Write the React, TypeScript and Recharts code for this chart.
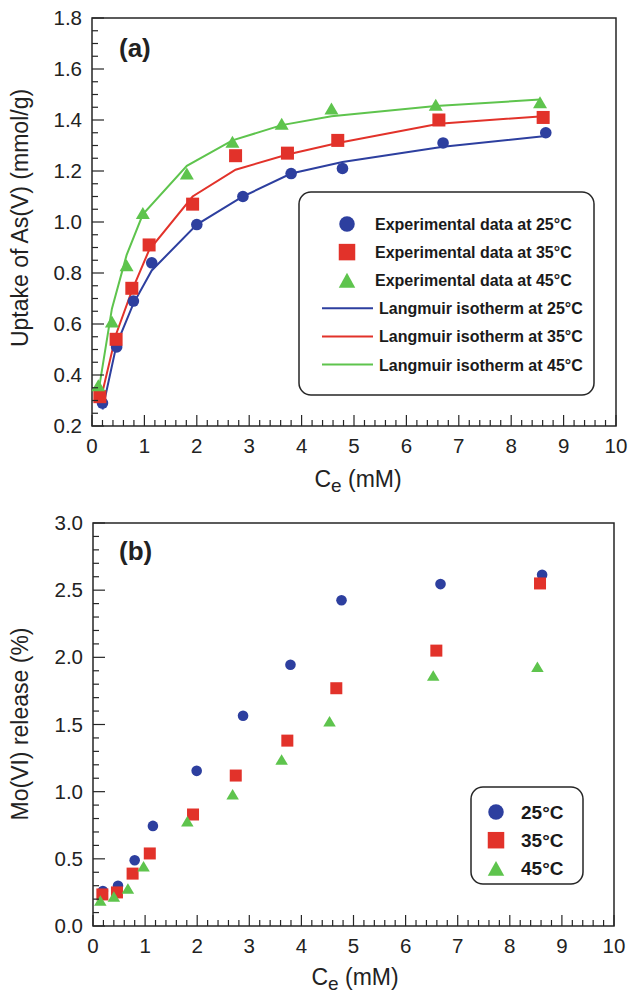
import { ScatterChart, Scatter, XAxis, YAxis, ReferenceArea } from "recharts";

const BLUE = "#2d3f9f";
const RED = "#e2322a";
const GREEN = "#5ec44d";
const INK = "#262626";
const FONT = "'Liberation Sans', Arial, Helvetica, sans-serif";

const TEMPS = ["25°C", "35°C", "45°C"];

// (a) uptake of As(V), experimental points and Langmuir fit
const ceA25 = [0.2, 0.47, 0.79, 1.14, 2.0, 2.88, 3.8, 4.78, 6.7, 8.66];
const qA25 = [0.29, 0.51, 0.69, 0.84, 0.99, 1.1, 1.19, 1.21, 1.31, 1.35];
const fitA25 = [0.265, 0.52, 0.68, 0.81, 0.99, 1.1, 1.19, 1.235, 1.295, 1.337];

const ceA35 = [0.15, 0.46, 0.76, 1.09, 1.92, 2.74, 3.73, 4.69, 6.62, 8.61];
const qA35 = [0.315, 0.54, 0.74, 0.91, 1.07, 1.26, 1.27, 1.32, 1.4, 1.41];
const fitA35 = [0.29, 0.56, 0.73, 0.89, 1.1, 1.205, 1.265, 1.31, 1.385, 1.415];

const ceA45 = [0.12, 0.38, 0.66, 0.97, 1.81, 2.68, 3.62, 4.57, 6.56, 8.55];
const qA45 = [0.36, 0.61, 0.83, 1.035, 1.19, 1.315, 1.385, 1.445, 1.46, 1.47];
const fitA45 = [0.33, 0.66, 0.87, 1.03, 1.22, 1.32, 1.38, 1.415, 1.455, 1.48];

// (b) Mo(VI) release
const ceB25 = [0.19, 0.48, 0.8, 1.15, 1.99, 2.88, 3.79, 4.77, 6.67, 8.62];
const relB25 = [0.26, 0.3, 0.49, 0.745, 1.155, 1.565, 1.945, 2.425, 2.545, 2.615];
const ceB35 = [0.18, 0.46, 0.76, 1.09, 1.92, 2.74, 3.73, 4.67, 6.59, 8.58];
const relB35 = [0.235, 0.25, 0.39, 0.54, 0.83, 1.12, 1.38, 1.77, 2.05, 2.55];
const ceB45 = [0.14, 0.4, 0.67, 0.97, 1.81, 2.68, 3.62, 4.54, 6.53, 8.53];
const relB45 = [0.19, 0.22, 0.28, 0.445, 0.78, 0.98, 1.24, 1.525, 1.865, 1.93];

const X_MAJOR = [0, 1, 2, 3, 4, 5, 6, 7, 8, 9, 10];
const Y_MAJOR_A = [0.2, 0.4, 0.6, 0.8, 1.0, 1.2, 1.4, 1.6, 1.8];
const Y_MAJOR_B = [0, 0.5, 1.0, 1.5, 2.0, 2.5, 3.0];

// minor ticks between majors (axis config only)
function withMinors(majors: number[], parts: number) {
  const out: number[] = [];
  for (let i = 0; i < majors.length - 1; i++) {
    const step = (majors[i + 1] - majors[i]) / parts;
    for (let k = 0; k < parts; k++) out.push(+(majors[i] + k * step).toFixed(4));
  }
  out.push(majors[majors.length - 1]);
  return out;
}

const zip = (xs: number[], ys: number[]) => xs.map((x, i) => ({ x, y: ys[i] }));
const isMajor = (majors: number[], v: number) => majors.some((m) => Math.abs(m - v) < 1e-6);

function makeXTick(majors: number[]) {
  return (p: any) => {
    const v = p.payload.value;
    const major = isMajor(majors, v);
    return (
      <g>
        <line x1={p.x} x2={p.x} y1={p.y} y2={p.y - (major ? 11 : 6)} stroke={INK} strokeWidth={1.2} />
        {major && (
          <text x={p.x} y={p.y + 27} textAnchor="middle" fontSize={20.5} fontFamily={FONT} fill="#222">
            {Math.round(v)}
          </text>
        )}
      </g>
    );
  };
}

function makeYTick(majors: number[]) {
  return (p: any) => {
    const v = p.payload.value;
    const major = isMajor(majors, v);
    return (
      <g>
        <line x1={p.x} x2={p.x + (major ? 12 : 6)} y1={p.y} y2={p.y} stroke={INK} strokeWidth={1.2} />
        {major && (
          <text x={p.x - 10} y={p.y + 7} textAnchor="end" fontSize={20.5} fontFamily={FONT} fill="#222">
            {v.toFixed(1)}
          </text>
        )}
      </g>
    );
  };
}

const circle = (color: string, r: number) => (p: any) => <circle cx={p.cx} cy={p.cy} r={r} fill={color} />;
const square = (color: string, s: number) => (p: any) => (
  <rect x={p.cx - s / 2} y={p.cy - s / 2} width={s} height={s} fill={color} />
);
const triangle = (color: string, w: number, h: number) => (p: any) => (
  <polygon
    points={`${p.cx},${p.cy - h / 2} ${p.cx + w / 2},${p.cy + h / 2} ${p.cx - w / 2},${p.cy + h / 2}`}
    fill={color}
  />
);
const noMark = () => <g />;

function PanelA() {
  return (
    <ScatterChart width={630} height={500} margin={{ top: 18, right: 14, bottom: 0, left: 0 }}>
      <XAxis
        type="number"
        dataKey="x"
        domain={[0, 10]}
        ticks={withMinors(X_MAJOR, 5)}
        interval={0}
        height={74}
        axisLine={false}
        tickLine={false}
        tickSize={0}
        tickMargin={0}
        tick={makeXTick(X_MAJOR)}
      />
      <YAxis
        type="number"
        dataKey="y"
        domain={[0.2, 1.8]}
        ticks={withMinors(Y_MAJOR_A, 4)}
        interval={0}
        width={92}
        axisLine={false}
        tickLine={false}
        tickSize={0}
        tickMargin={0}
        tick={makeYTick(Y_MAJOR_A)}
      />
      <ReferenceArea x1={0} x2={10} y1={0.2} y2={1.8} fill="none" fillOpacity={0} stroke={INK} strokeWidth={1.5} />
      <Scatter data={zip(ceA25, fitA25)} line={{ stroke: BLUE, strokeWidth: 2 }} shape={noMark} isAnimationActive={false} />
      <Scatter data={zip(ceA35, fitA35)} line={{ stroke: RED, strokeWidth: 2 }} shape={noMark} isAnimationActive={false} />
      <Scatter data={zip(ceA45, fitA45)} line={{ stroke: GREEN, strokeWidth: 2 }} shape={noMark} isAnimationActive={false} />
      <Scatter data={zip(ceA25, qA25)} shape={circle(BLUE, 5.8)} isAnimationActive={false} />
      <Scatter data={zip(ceA35, qA35)} shape={square(RED, 13)} isAnimationActive={false} />
      <Scatter data={zip(ceA45, qA45)} shape={triangle(GREEN, 14, 12)} isAnimationActive={false} />
    </ScatterChart>
  );
}

function PanelB() {
  return (
    <ScatterChart width={630} height={496} margin={{ top: 23, right: 16, bottom: 0, left: 0 }}>
      <XAxis
        type="number"
        dataKey="x"
        domain={[0, 10]}
        ticks={withMinors(X_MAJOR, 5)}
        interval={0}
        height={70}
        axisLine={false}
        tickLine={false}
        tickSize={0}
        tickMargin={0}
        tick={makeXTick(X_MAJOR)}
      />
      <YAxis
        type="number"
        dataKey="y"
        domain={[0, 3]}
        ticks={withMinors(Y_MAJOR_B, 5)}
        interval={0}
        width={93}
        axisLine={false}
        tickLine={false}
        tickSize={0}
        tickMargin={0}
        tick={makeYTick(Y_MAJOR_B)}
      />
      <ReferenceArea x1={0} x2={10} y1={0} y2={3} fill="none" fillOpacity={0} stroke={INK} strokeWidth={1.5} />
      <Scatter data={zip(ceB25, relB25)} shape={circle(BLUE, 5.3)} isAnimationActive={false} />
      <Scatter data={zip(ceB35, relB35)} shape={square(RED, 12)} isAnimationActive={false} />
      <Scatter data={zip(ceB45, relB45)} shape={triangle(GREEN, 12.5, 10.5)} isAnimationActive={false} />
    </ScatterChart>
  );
}

const COLORS = [BLUE, RED, GREEN];

function Marker({ i, x, y, big }: { i: number; x: number; y: number; big: number }) {
  if (i === 0) return <circle cx={x} cy={y} r={big / 2 - 0.5} fill={COLORS[0]} />;
  if (i === 1) return <rect x={x - big / 2} y={y - big / 2} width={big} height={big} fill={COLORS[1]} />;
  return (
    <polygon
      points={`${x},${y - big * 0.45} ${x + big / 2},${y + big * 0.45} ${x - big / 2},${y + big * 0.45}`}
      fill={COLORS[2]}
    />
  );
}

function Overlay() {
  const rowsA = 224;
  const stepA = 28.1;
  return (
    <svg width={630} height={996} style={{ position: "absolute", left: 0, top: 0, pointerEvents: "none" }}>
      <g fontFamily={FONT} fill="#222">
        <text x={119} y={57} fontSize={26} fontWeight="bold">(a)</text>
        <text x={119} y={560} fontSize={26} fontWeight="bold">(b)</text>

        <text x={358} y={487} fontSize={23} textAnchor="middle">
          C<tspan fontSize={19} dy={5}>e</tspan>
          <tspan dy={-5}> (mM)</tspan>
        </text>
        <text x={355} y={985} fontSize={23} textAnchor="middle">
          C<tspan fontSize={19} dy={5}>e</tspan>
          <tspan dy={-5}> (mM)</tspan>
        </text>
        <text x={28} y={218} fontSize={23} textAnchor="middle" transform="rotate(-90 28 218)">
          Uptake of As(V) (mmol/g)
        </text>
        <text x={28} y={724} fontSize={23} textAnchor="middle" transform="rotate(-90 28 724)">
          Mo(VI) release (%)
        </text>
      </g>

      {/* legend (a) */}
      <rect x={299} y={192} width={295} height={203} rx={12} fill="#fff" stroke={INK} strokeWidth={1.5} />
      <g fontFamily={FONT} fontWeight="bold" fontSize={16} fill="#1a1a1a">
        {TEMPS.map((t, i) => (
          <g key={"e" + t}>
            <Marker i={i} x={347} y={rowsA + i * stepA} big={16.5} />
            <text x={375} y={rowsA + i * stepA + 6}>Experimental data at {t}</text>
          </g>
        ))}
        {TEMPS.map((t, i) => (
          <g key={"l" + t}>
            <line
              x1={322}
              x2={373}
              y1={rowsA + (i + 3) * stepA}
              y2={rowsA + (i + 3) * stepA}
              stroke={COLORS[i]}
              strokeWidth={2}
            />
            <text x={379} y={rowsA + (i + 3) * stepA + 6}>Langmuir isotherm at {t}</text>
          </g>
        ))}
      </g>

      {/* legend (b) */}
      <rect x={471} y={787} width={112} height={97} rx={12} fill="#fff" stroke={INK} strokeWidth={1.5} />
      <g fontFamily={FONT} fontWeight="bold" fontSize={19} fill="#1a1a1a">
        {TEMPS.map((t, i) => (
          <g key={"b" + t}>
            <Marker i={i} x={496} y={812 + i * 28.2} big={16.5} />
            <text x={521} y={812 + i * 28.2 + 7}>{t}</text>
          </g>
        ))}
      </g>
    </svg>
  );
}

export default function App() {
  return (
    <div style={{ position: "relative", width: 630, height: 996, background: "#fff", fontFamily: FONT }}>
      <style>{"body{margin:0}"}</style>
      <div style={{ position: "absolute", left: 0, top: 0 }}>
        <PanelA />
      </div>
      <div style={{ position: "absolute", left: 0, top: 500 }}>
        <PanelB />
      </div>
      <Overlay />
    </div>
  );
}
